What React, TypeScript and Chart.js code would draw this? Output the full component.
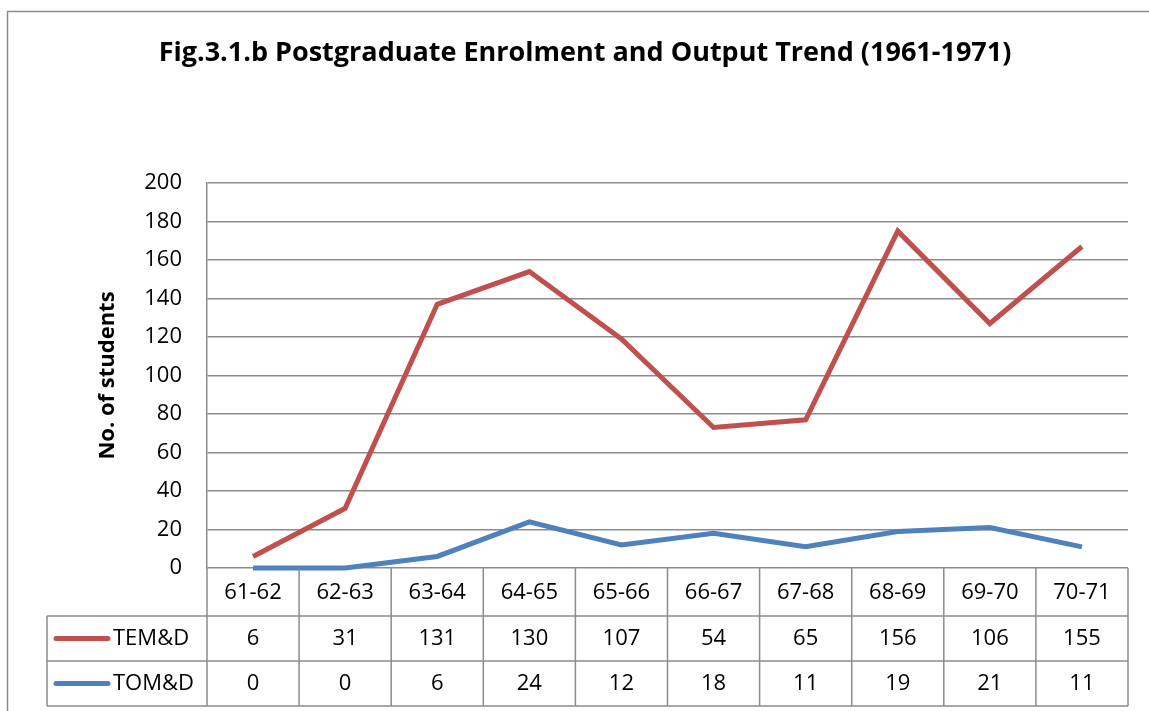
import React, { useEffect, useRef } from 'react';
import { Chart, registerables } from 'chart.js';

Chart.register(...registerables);

const titleText = 'Fig.3.1.b Postgraduate Enrolment and Output Trend (1961-1971)';
const yAxisTitle = 'No. of students';
const categories = ['61-62', '62-63', '63-64', '64-65', '65-66', '66-67', '67-68', '68-69', '69-70', '70-71'];
const seriesNames = ['TEM&D', 'TOM&D'];
// values as drawn by the lines in the picture
const temdLine = [6, 31, 137, 154, 119, 73, 77, 175, 127, 167];
const tomdLine = [0, 0, 6, 24, 12, 18, 11, 19, 21, 11];
// values printed in the data table under the chart
const temdTable = [6, 31, 131, 130, 107, 54, 65, 156, 106, 155];
const tomdTable = [0, 0, 6, 24, 12, 18, 11, 19, 21, 11];
const yMin = 0;
const yMax = 200;
const yStep = 20;

const RED = '#C0504D';
const BLUE = '#4F81BD';
const GRID = '#8c8c8c';
const FONT = '"Open Sans", "DejaVu Sans", sans-serif';

const tablePlugin = {
  id: 'tablePlugin',
  afterDraw(chart: any) {
    const { ctx, chartArea: ca, scales } = chart;
    const x = scales.x;
    const n = categories.length;
    const w = (ca.right - ca.left) / n;
    const catTop = ca.bottom;
    const catBottom = catTop + 48;
    const r1Bottom = catBottom + 45;
    const r2Bottom = r1Bottom + 45;
    const tableLeft = 47;

    ctx.save();
    // outer chart border (left & top visible)
    ctx.strokeStyle = GRID;
    ctx.lineWidth = 1.5;
    ctx.beginPath();
    ctx.moveTo(7.5, chart.height + 5);
    ctx.lineTo(7.5, 11.5);
    ctx.lineTo(chart.width + 5, 11.5);
    ctx.stroke();

    // title
    ctx.fillStyle = '#000';
    ctx.font = `bold 27px ${FONT}`;
    ctx.textAlign = 'center';
    ctx.textBaseline = 'middle';
    ctx.fillText(titleText, 585, 53);

    // y axis title
    ctx.save();
    ctx.translate(108, (ca.top + ca.bottom) / 2);
    ctx.rotate(-Math.PI / 2);
    ctx.font = `bold 22px ${FONT}`;
    ctx.fillText(yAxisTitle, 0, 0);
    ctx.restore();

    // table grid
    ctx.strokeStyle = GRID;
    ctx.lineWidth = 1.5;
    ctx.beginPath();
    for (let i = 0; i <= n; i++) {
      const xx = ca.left + i * w;
      ctx.moveTo(xx, catTop);
      ctx.lineTo(xx, r2Bottom);
    }
    ctx.moveTo(tableLeft, catBottom);
    ctx.lineTo(tableLeft, r2Bottom);
    [catBottom, r1Bottom, r2Bottom].forEach((yy) => {
      ctx.moveTo(tableLeft, yy);
      ctx.lineTo(ca.right, yy);
    });
    ctx.stroke();

    // table text
    ctx.fillStyle = '#000';
    ctx.font = `22px ${FONT}`;
    ctx.textAlign = 'center';
    ctx.textBaseline = 'middle';
    const rowsY = [(catTop + catBottom) / 2 + 1, (catBottom + r1Bottom) / 2, (r1Bottom + r2Bottom) / 2];
    categories.forEach((c, i) => {
      const cx = x.getPixelForValue(i);
      ctx.fillText(c, cx, rowsY[0]);
      ctx.fillText(String(temdTable[i]), cx, rowsY[1]);
      ctx.fillText(String(tomdTable[i]), cx, rowsY[2]);
    });

    // legend keys
    const keyColors = [RED, BLUE];
    seriesNames.forEach((name, k) => {
      const yy = rowsY[k + 1];
      ctx.strokeStyle = keyColors[k];
      ctx.lineWidth = 5;
      ctx.lineCap = 'round';
      ctx.beginPath();
      ctx.moveTo(56, yy);
      ctx.lineTo(108, yy);
      ctx.stroke();
      ctx.textAlign = 'left';
      ctx.fillStyle = '#000';
      ctx.fillText(name, 113, yy);
    });
    ctx.restore();
  },
};

export default function App() {
  const ref = useRef<HTMLCanvasElement | null>(null);
  useEffect(() => {
    if (!ref.current) return;
    const chart = new Chart(ref.current, {
      type: 'line',
      data: {
        labels: categories,
        datasets: [
          {
            label: seriesNames[0],
            data: temdLine,
            borderColor: RED,
            backgroundColor: RED,
            borderWidth: 5,
            pointRadius: 0,
            tension: 0,
            clip: false as any,
          },
          {
            label: seriesNames[1],
            data: tomdLine,
            borderColor: BLUE,
            backgroundColor: BLUE,
            borderWidth: 5,
            pointRadius: 0,
            tension: 0,
            clip: false as any,
          },
        ],
      },
      options: {
        animation: false,
        responsive: true,
        maintainAspectRatio: false,
        layout: { padding: { left: 0, top: 183, right: 21, bottom: 143 } },
        plugins: {
          legend: { display: false },
          title: { display: false },
          tooltip: { enabled: false },
        },
        scales: {
          x: { type: 'category', offset: true, display: false },
          y: {
            min: yMin,
            max: yMax,
            ticks: {
              stepSize: yStep,
              color: '#000',
              font: { family: FONT, size: 22 },
              padding: 25,
            },
            grid: { color: GRID, lineWidth: 1.5, drawTicks: false },
            border: { color: GRID, width: 1.5 },
            afterFit: (s: any) => {
              s.width = 207;
            },
          },
        },
      },
      plugins: [tablePlugin],
    });
    return () => chart.destroy();
  }, []);
  return (
    <div style={{ position: 'absolute', left: 0, top: 0, width: 1149, height: 711, background: '#fff' }}>
      <canvas ref={ref} />
    </div>
  );
}
